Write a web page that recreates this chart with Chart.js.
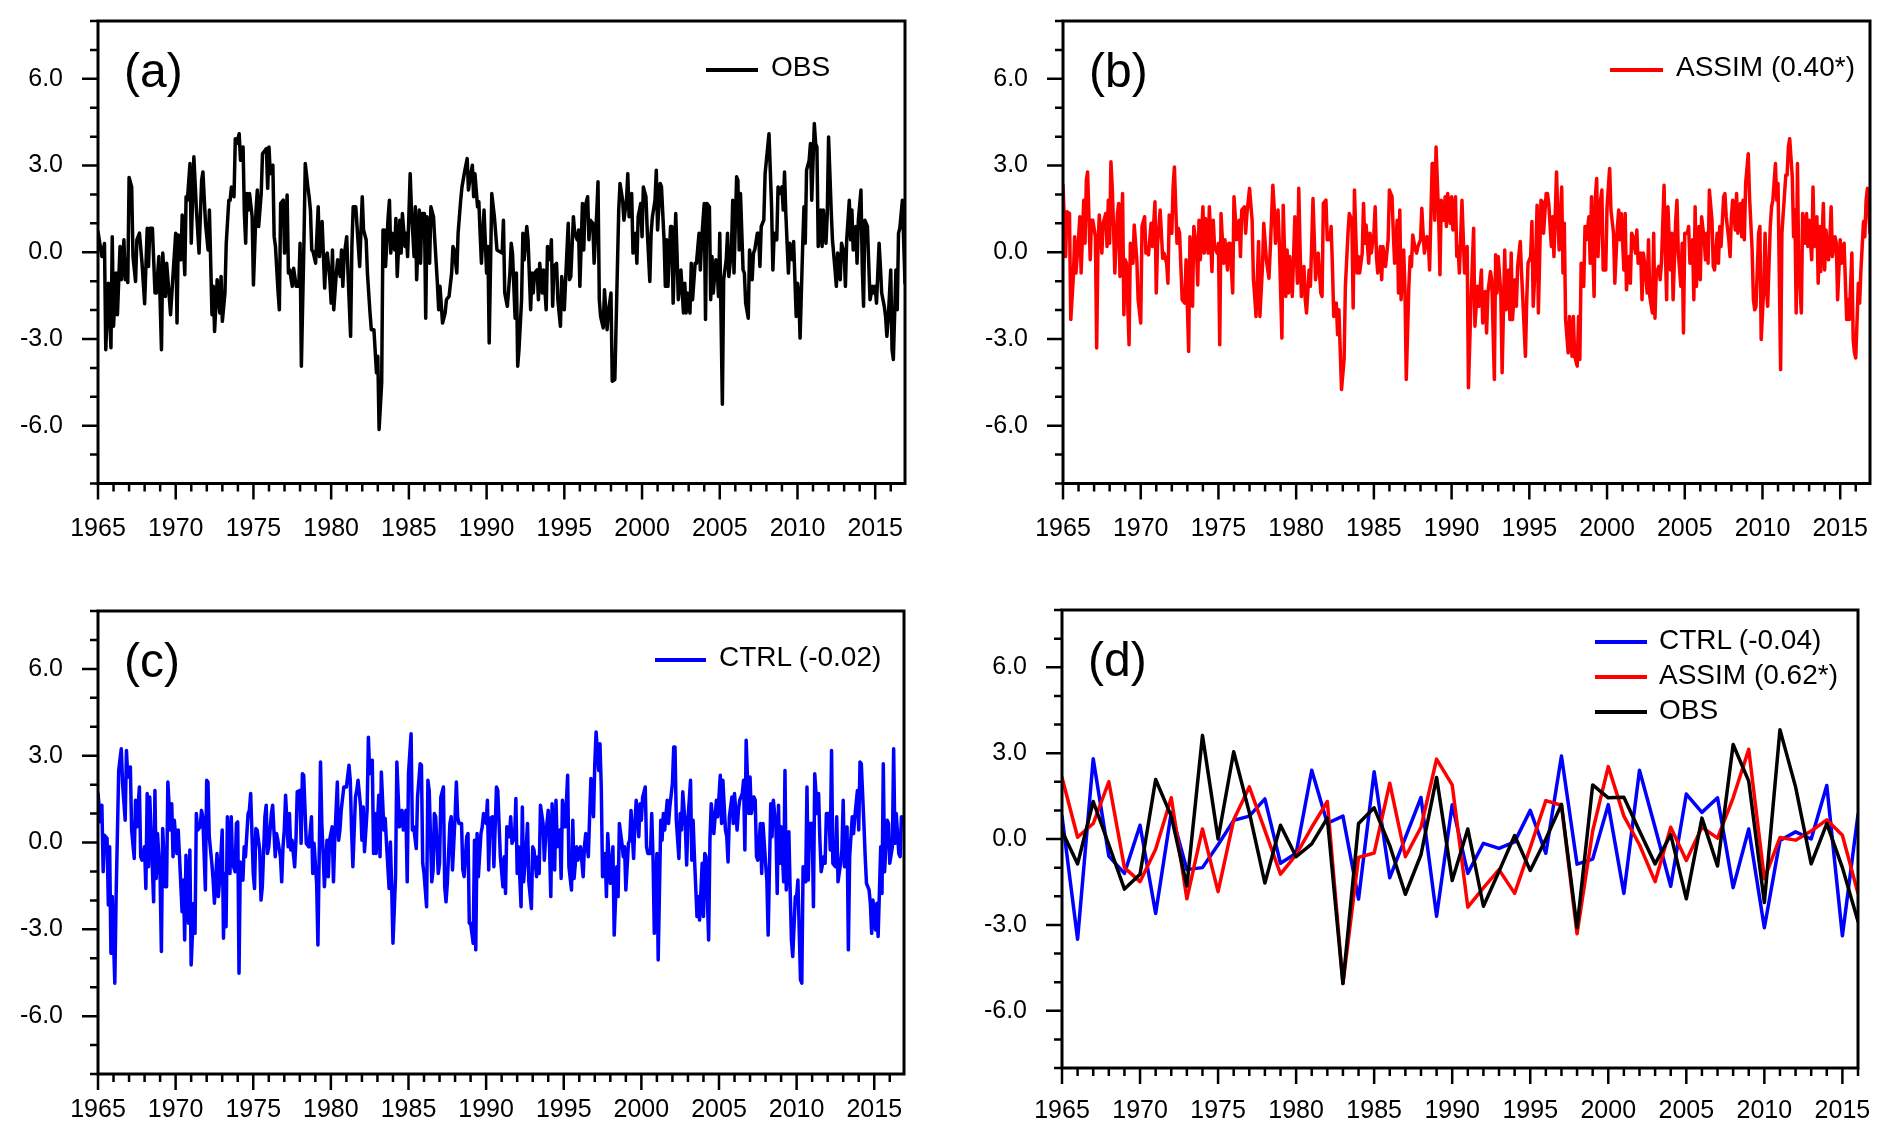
<!DOCTYPE html>
<html>
<head>
<meta charset="utf-8">
<title>OBS / ASSIM / CTRL index</title>
<script src="https://cdn.jsdelivr.net/npm/chart.js@4.4.1/dist/chart.umd.min.js"></script>
<style>
    html, body { margin: 0; padding: 0; background: #fff; }
    #page {
        position: relative;
        width: 1892px;
        height: 1148px;
        overflow: hidden;
        font-family: 'Liberation Sans', Arial, Helvetica, sans-serif;
    }
    #page canvas { position: absolute; left: 0; top: 0; }
    .lbl { position: absolute; white-space: nowrap; color: #000; line-height: 1; }
    .panel-tag { font-size: 48px; }
    .key-text { font-size: 28px; }
    .key-line { position: absolute; height: 4px; }
</style>
</head>
<body>
<div id="page">
    <canvas id="chartA" width="1892" height="1148"></canvas>
    <canvas id="chartB" width="1892" height="1148"></canvas>
    <canvas id="chartC" width="1892" height="1148"></canvas>
    <canvas id="chartD" width="1892" height="1148"></canvas>

    <!-- panel tags -->
    <div class="lbl panel-tag" style="left:124px; top:47px;">(a)</div>
    <div class="lbl panel-tag" style="left:1089px; top:47px;">(b)</div>
    <div class="lbl panel-tag" style="left:124px; top:637px;">(c)</div>
    <div class="lbl panel-tag" style="left:1088px; top:636px;">(d)</div>

    <!-- legends -->
    <div class="key-line" style="left:706px; top:68px; width:52px; background:#000;"></div>
    <div class="lbl key-text" style="left:771px; top:53px;">OBS</div>

    <div class="key-line" style="left:1610px; top:68px; width:53px; background:#ff0000;"></div>
    <div class="lbl key-text" style="left:1676px; top:53px;">ASSIM (0.40*)</div>

    <div class="key-line" style="left:655px; top:658px; width:51px; background:#0000ff;"></div>
    <div class="lbl key-text" style="left:719px; top:643px;">CTRL (-0.02)</div>

    <div class="key-line" style="left:1595px; top:640px; width:52px; background:#0000ff;"></div>
    <div class="lbl key-text" style="left:1659px; top:626px;">CTRL (-0.04)</div>
    <div class="key-line" style="left:1595px; top:675px; width:52px; background:#ff0000;"></div>
    <div class="lbl key-text" style="left:1659px; top:661px;">ASSIM (0.62*)</div>
    <div class="key-line" style="left:1595px; top:710px; width:52px; background:#000;"></div>
    <div class="lbl key-text" style="left:1659px; top:696px;">OBS</div>
</div>

<script>
// Tick labels
const majorYears = [1965, 1970, 1975, 1980, 1985, 1990, 1995, 2000, 2005, 2010, 2015];
const yLabels = [-6, -3, 0, 3, 6];

// Monthly OBS (months since Jan 1965, value)
const obsMonth = [
    0, 3, 5, 6, 8, 10, 11, 12, 14, 15,
    17, 18, 20, 21, 22, 23, 24, 26, 27, 29,
    30, 32, 34, 36, 38, 39, 40, 42, 44, 45,
    47, 49, 50, 52, 53, 55, 56, 58, 60, 61,
    62, 64, 65, 67, 68, 69, 71, 72, 74, 76,
    78, 80, 81, 83, 85, 86, 88, 89, 90, 92,
    94, 95, 96, 98, 99, 101, 102, 103, 105, 106,
    107, 109, 110, 112, 113, 114, 115, 116, 117, 119,
    120, 122, 123, 124, 126, 127, 129, 130, 131, 132,
    133, 135, 136, 137, 139, 140, 141, 143, 144, 146,
    147, 148, 150, 151, 153, 155, 156, 157, 159, 160,
    162, 163, 164, 165, 166, 168, 170, 171, 172, 173,
    175, 176, 177, 179, 180, 181, 182, 184, 185, 187,
    188, 189, 190, 192, 193, 195, 196, 197, 199, 200,
    202, 204, 205, 207, 208, 210, 211, 213, 215, 216,
    217, 219, 220, 221, 222, 224, 225, 226, 227, 229,
    230, 231, 233, 234, 235, 237, 238, 239, 241, 242,
    244, 245, 246, 248, 249, 250, 252, 253, 254, 256,
    257, 259, 260, 262, 263, 264, 266, 268, 269, 271,
    273, 274, 275, 277, 278, 280, 281, 283, 285, 286,
    287, 289, 290, 291, 293, 294, 295, 296, 298, 300,
    301, 302, 304, 306, 308, 312, 313, 314, 316, 318,
    319, 320, 322, 323, 324, 325, 327, 328, 329, 331,
    332, 334, 335, 336, 337, 339, 340, 341, 343, 344,
    346, 347, 349, 350, 351, 352, 354, 355, 357, 358,
    360, 361, 363, 364, 365, 367, 368, 370, 371, 372,
    374, 375, 376, 378, 379, 380, 382, 383, 385, 386,
    387, 388, 390, 391, 393, 394, 396, 397, 399, 401,
    402, 403, 405, 406, 408, 409, 410, 412, 413, 415,
    416, 417, 419, 420, 421, 423, 424, 426, 427, 428,
    430, 431, 432, 434, 435, 437, 438, 439, 440, 442,
    443, 444, 446, 447, 448, 450, 452, 453, 454, 455,
    457, 458, 459, 461, 462, 464, 465, 466, 468, 469,
    470, 472, 473, 474, 475, 477, 478, 479, 480, 482,
    483, 485, 486, 487, 489, 490, 491, 493, 494, 495,
    496, 498, 499, 500, 502, 503, 505, 506, 507, 509,
    510, 511, 512, 514, 515, 516, 518, 520, 521, 522,
    524, 525, 526, 528, 529, 530, 531, 533, 534, 536,
    537, 539, 540, 541, 542, 544, 545, 546, 547, 549,
    550, 551, 553, 554, 555, 556, 558, 559, 560, 562,
    563, 564, 566, 567, 569, 570, 571, 573, 574, 576,
    577, 578, 580, 581, 582, 583, 585, 586, 587, 589,
    590, 591, 592, 594, 595, 596, 598, 599, 600, 601,
    603, 604, 605, 607, 608, 609, 610, 612, 613, 614,
    616, 617, 618, 619, 621, 623
];
const obsValue = [
    0.71, -0.15, 0.3, -3.37, -1.07, -3.3, 0.54, -2.56, -0.72, -2.16,
    0.2, -0.95, 0.43, -0.95, -0.26, -1.05, 2.59, 2.26, -0.15, -1.01,
    0.43, 0.66, -0.38, -1.78, 0.83, -0.49, 0.83, 0.83, -1.41, -1.41,
    -0.15, -3.37, -0.03, -1.53, -0.38, -1.53, -2.16, -0.72, 0.66, -2.45,
    0.6, -0.26, 1.29, -0.78, 1.92, 1.8, 3.07, 0.31, 3.3, 1.46,
    -0.03, 2.49, 2.78, 1.0, 0.08, 1.46, -2.16, -1.18, -2.74, -0.95,
    -2.1, -0.84, -2.39, -1.41, 0.31, 1.8, 1.8, 2.26, 1.92, 3.93,
    3.76, 4.1, 3.18, 3.64, 1.34, 0.31, 2.03, 1.46, 2.03, 1.23,
    -1.13, 1.46, 2.15, 0.89, 2.03, 3.41, 3.53, 3.59, 2.21, 3.64,
    2.72, 3.01, 0.54, 0.2, -1.36, -1.99, 1.69, 1.8, -0.03, 1.98,
    -0.72, -0.61, -1.18, -0.55, -1.18, -1.18, 0.31, -3.94, 0.37, 3.07,
    2.26, 1.92, 1.46, 0.08, 0.02, -0.38, 1.57, -0.15, 0.66, 1.06,
    -1.24, -0.15, -0.03, -0.95, -1.76, 0.08, -1.99, -0.72, -0.26, -0.84,
    0.08, -1.18, -0.15, 0.54, -0.72, -2.91, 0.2, 1.57, 1.57, 0.89,
    -0.49, 1.92, 0.77, 0.43, -0.72, -2.1, -2.68, -2.68, -4.17, -3.6,
    -6.13, -4.52, 0.77, 0.77, -0.49, 1.23, 1.8, -0.03, 0.66, 0.08,
    1.17, -0.84, 1.11, -0.03, 1.34, 0.2, 0.66, -0.15, 2.72, 1.46,
    -0.15, 1.57, -0.95, 1.46, -0.38, 1.34, 1.34, -2.28, 1.23, -0.38,
    1.57, 1.23, 0.43, -1.07, -1.99, -1.18, -2.45, -2.1, -1.64, -1.53,
    -0.72, 0.2, 0.08, -0.72, 0.66, 1.8, 2.26, 2.78, 3.24, 2.15,
    2.49, 3.01, 1.92, 2.72, 1.57, 1.75, 0.66, -0.38, 1.46, -0.72,
    0.2, -3.14, 2.03, 1.23, 0.08, -0.03, 1.11, -1.41, -1.87, -0.72,
    0.31, -0.03, -2.28, -0.72, -3.94, -3.37, -1.64, 0.66, -0.26, 0.89,
    0.43, -1.99, -0.72, -1.41, -0.72, -0.61, -1.64, -0.38, -1.41, -0.61,
    -1.99, 0.2, -0.26, 0.43, -1.87, -0.49, -0.38, -1.64, -2.56, -0.84,
    -1.99, -0.95, 1.0, -0.95, -0.84, 1.23, 0.66, 0.43, 0.77, -1.18,
    1.69, 0.08, 1.57, 1.92, 0.43, 1.11, 1.0, -0.38, 1.34, 2.44,
    -1.64, -2.22, -2.62, -1.3, -2.68, -2.1, -1.41, -4.46, -4.4, -0.49,
    1.46, 2.38, 1.8, 1.11, 1.8, 2.72, 1.23, 2.03, -0.03, 0.66,
    -0.38, 1.23, 1.69, 0.54, 2.26, 1.92, 0.77, -1.01, 0.66, 1.23,
    1.8, 2.84, 0.77, 2.38, 2.26, 0.43, -1.18, 0.43, -1.18, 0.89,
    0.89, -1.76, 1.34, -0.03, -1.64, -0.61, -2.1, -1.07, -2.1, -1.41,
    -2.1, -0.38, -1.64, -0.38, -0.38, 0.66, -0.61, 0.43, 1.69, -2.33,
    1.69, 1.57, -1.64, -0.15, -1.41, -0.26, -0.49, -1.53, 0.66, -5.26,
    -0.95, -0.26, 0.66, -0.84, 0.08, 1.8, -0.72, 2.61, 2.49, 0.08,
    2.03, -0.61, -0.72, -1.76, -2.28, 0.08, -0.95, -0.03, 0.08, 0.66,
    0.66, -0.49, 0.89, 1.11, 2.72, 3.18, 4.1, 1.57, -0.61, 0.66,
    0.43, 2.26, 2.03, 2.26, 1.46, 2.78, 1.34, -0.72, 0.31, -0.26,
    0.37, -2.22, -1.07, -1.41, -2.97, 0.2, 1.57, 0.31, 2.84, 3.18,
    3.76, 1.8, 4.45, 3.76, 3.64, 0.2, 1.46, 0.2, 1.46, 0.31,
    1.34, 3.99, 1.46, 0.43, -0.61, -1.18, -0.03, -0.95, 0.31, -0.03,
    -1.18, 0.43, 1.8, 0.43, 1.46, 0.08, 0.89, -0.38, 1.11, 2.15,
    -0.49, -1.87, 1.11, 0.89, -0.38, -1.64, -1.18, -1.41, -1.18, -1.76,
    0.31, -0.49, -1.41, -1.87, -2.22, -2.91, -2.33, -0.61, -3.37, -3.71,
    -0.61, -1.99, 0.66, 0.83, 1.8, -1.07
];

// Monthly ASSIM
const assimMonth = [
    0, 2, 3, 5, 6, 8, 9, 10, 12, 13,
    14, 16, 17, 18, 19, 21, 22, 23, 25, 26,
    27, 28, 30, 31, 33, 34, 35, 36, 37, 38,
    39, 40, 42, 43, 44, 46, 47, 48, 49, 51,
    52, 54, 55, 57, 58, 60, 61, 63, 64, 65,
    66, 68, 69, 71, 72, 73, 75, 77, 78, 80,
    81, 82, 84, 85, 86, 88, 89, 90, 92, 94,
    95, 97, 98, 100, 101, 103, 104, 105, 106, 108,
    109, 110, 112, 113, 115, 116, 117, 119, 120, 121,
    122, 124, 125, 127, 128, 129, 131, 132, 133, 134,
    136, 137, 138, 140, 141, 142, 144, 146, 147, 148,
    149, 151, 152, 154, 155, 157, 159, 160, 162, 163,
    164, 166, 167, 169, 170, 172, 173, 174, 175, 177,
    178, 179, 181, 182, 183, 184, 186, 187, 188, 190,
    191, 192, 193, 195, 196, 197, 199, 200, 201, 203,
    204, 206, 207, 208, 209, 211, 212, 213, 215, 217,
    218, 220, 221, 223, 224, 225, 227, 228, 229, 231,
    232, 233, 234, 236, 237, 238, 240, 241, 242, 243,
    245, 246, 247, 249, 250, 251, 252, 254, 255, 256,
    258, 259, 260, 261, 263, 264, 265, 267, 268, 269,
    270, 272, 273, 274, 276, 277, 278, 279, 281, 282,
    283, 285, 286, 287, 288, 290, 291, 292, 294, 295,
    296, 297, 299, 300, 301, 303, 304, 305, 306, 308,
    310, 312, 313, 315, 317, 318, 320, 321, 323, 324,
    326, 327, 328, 330, 331, 333, 334, 335, 336, 338,
    339, 341, 342, 344, 345, 346, 347, 349, 350, 351,
    353, 354, 355, 357, 358, 359, 361, 362, 363, 365,
    366, 367, 369, 370, 371, 373, 374, 375, 377, 378,
    379, 381, 382, 383, 385, 386, 387, 388, 390, 391,
    393, 394, 395, 397, 398, 399, 400, 402, 403, 404,
    406, 407, 408, 410, 411, 412, 413, 415, 416, 417,
    419, 420, 422, 423, 425, 426, 428, 429, 430, 431,
    433, 434, 435, 437, 438, 439, 440, 442, 443, 444,
    446, 447, 448, 449, 451, 452, 453, 455, 456, 457,
    458, 460, 461, 462, 464, 465, 466, 467, 469, 470,
    471, 473, 474, 475, 477, 478, 479, 480, 482, 483,
    484, 486, 487, 488, 489, 491, 492, 493, 495, 496,
    497, 498, 499, 501, 502, 503, 505, 506, 507, 508,
    510, 511, 512, 514, 515, 516, 517, 519, 520, 521,
    523, 524, 525, 526, 527, 529, 530, 532, 533, 534,
    535, 537, 538, 539, 541, 542, 543, 544, 546, 547,
    548, 550, 551, 552, 554, 555, 556, 558, 559, 560,
    561, 563, 564, 565, 566, 567, 568, 570, 571, 573,
    574, 575, 576, 578, 579, 580, 582, 583, 584, 585,
    587, 588, 589, 591, 592, 593, 594, 596, 597, 598,
    600, 601, 602, 603, 605, 606, 607, 609, 610, 611,
    612, 614, 615, 616, 618, 619, 620, 621, 623
];
const assimValue = [
    2.32, -0.15, 1.4, 1.34, -2.33, -0.84, 0.54, -0.72, 0.48, 1.23,
    -0.72, 1.8, 0.31, 2.49, 2.78, -0.26, 1.11, 1.11, 0.54, -3.31,
    0.2, 1.29, -0.03, 1.0, 1.34, 0.2, 1.8, 0.31, 3.13, 2.26,
    0.89, -0.72, 1.34, 1.69, -0.84, 2.03, -2.16, -0.26, -0.38, -3.2,
    0.31, -0.38, 0.94, -0.26, -1.64, -2.45, 0.89, 1.23, -0.03, 0.08,
    -0.09, 1.0, 0.2, 1.75, -1.41, 0.31, 1.46, -0.21, -0.03, -0.38,
    -1.07, 1.29, 0.66, 2.26, 2.95, 0.31, 0.83, 0.66, -1.64, -1.76,
    -0.26, -3.43, 0.54, -1.87, 0.89, 0.2, -1.13, 1.11, -0.26, 1.57,
    -0.03, 1.17, -0.03, 1.57, -0.67, 1.11, 0.2, -0.03, 0.31, -3.2,
    1.34, -0.38, 0.43, -0.61, 0.31, 0.31, -1.41, 1.92, 1.23, 0.43,
    1.11, -0.15, 1.46, 1.57, 0.66, 1.34, 2.21, 1.11, -0.95, -1.53,
    -2.22, 0.37, -2.22, -0.49, 1.0, -0.26, -0.9, 0.08, 2.32, 1.57,
    0.31, 1.46, 0.31, -2.97, 1.63, -1.53, 0.08, -1.41, -0.15, -1.53,
    -0.15, 1.23, -1.07, 2.21, 0.2, -1.53, -0.49, -1.64, -2.1, -0.61,
    -1.18, 0.31, 1.86, -0.95, -0.38, -0.03, -1.41, -1.53, 1.69, 1.8,
    0.43, 0.43, 0.89, -0.49, -2.22, -1.76, -2.85, -1.99, -4.75, -3.71,
    -1.18, 0.66, 1.34, 1.11, -1.93, 2.15, -0.72, -0.15, -0.72, -0.03,
    1.69, 0.31, 0.94, -0.38, 0.66, -0.03, 0.66, 1.57, -0.15, -0.72,
    0.2, -0.95, 0.2, -0.49, -0.03, 0.43, 2.15, 1.92, 0.66, -0.38,
    1.11, -1.41, 1.46, -1.64, 0.08, -1.3, -4.4, -1.18, -0.15, -0.49,
    0.6, 0.08, -0.03, 0.2, 0.43, 1.52, 0.66, -0.03, 0.54, 0.43,
    -0.61, 3.07, 3.07, 1.11, 3.64, 1.23, -0.78, 1.8, 1.11, 1.92,
    0.89, 2.03, 1.0, 1.92, 0.77, 1.92, -0.15, 0.2, -0.72, 1.8,
    -0.72, 0.2, -4.69, -1.64, 0.83, -2.56, -1.18, -1.87, -0.61, -2.45,
    -1.36, -2.79, -1.41, -0.67, -0.95, -4.4, -0.09, -1.41, -0.15, -1.41,
    -4.17, 0.08, -1.99, -0.61, -2.33, -0.03, -2.33, -0.95, -1.87, -0.49,
    0.37, -0.72, -1.64, -3.6, -1.64, -0.38, -0.15, 1.06, -1.87, -0.03,
    1.63, -2.1, 1.8, 1.75, 0.66, 2.03, 2.03, 1.69, 0.2, 1.23,
    -0.15, 2.78, 1.23, 0.08, 2.26, -0.72, 1.0, -2.33, -3.48, -2.22,
    -3.6, -2.22, -3.6, -3.94, -2.22, -3.71, -0.38, -1.18, 0.89, 0.43,
    1.23, -0.38, 1.92, -1.53, 1.92, 2.55, -0.15, 1.8, 2.15, -0.61,
    -0.61, 1.57, 2.9, 1.46, 0.66, -1.07, 0.89, 1.46, 0.43, 1.34,
    -0.61, 1.34, -1.3, -0.15, -1.07, 0.66, 0.54, -0.03, 0.77, -0.38,
    -0.03, -1.64, -0.03, -0.38, -1.41, 0.43, -1.53, -2.1, 0.66, -2.28,
    -0.72, -0.49, -0.95, -0.38, 2.32, 0.08, -1.64, 1.57, -0.61, 0.66,
    -1.64, 1.11, 1.8, -0.03, -1.18, 0.31, -2.79, 0.66, 0.66, 0.89,
    -0.38, 0.43, -1.64, 1.57, -1.18, 0.89, -0.95, 1.23, 0.43, -0.26,
    0.66, -0.38, 2.15, 1.11, -0.49, -0.61, 0.66, -0.38, 0.89, 0.2,
    1.92, 2.03, 1.23, 0.43, -0.15, 1.23, 1.8, 0.77, 2.03, 0.66,
    1.69, 0.54, 1.8, 0.43, 2.38, 3.41, 1.92, 0.08, -1.64, -1.99,
    -1.87, 0.66, 0.89, -3.02, -1.18, 0.66, -1.18, -1.87, 0.89, 1.57,
    1.8, 3.07, 1.8, 2.38, -4.06, 0.66, 1.34, 2.67, 2.67, 3.64,
    3.93, 2.61, 0.54, 1.46, -2.1, 3.07, -0.49, -2.1, 1.34, 0.31,
    1.34, 0.2, 1.11, -0.26, 2.26, 0.2, 1.23, -1.07, 0.89, -0.67,
    1.69, -0.61, 0.77, -0.26, 0.43, 1.57, -0.15, 0.54, 0.31, -1.64,
    0.43, -0.38, -0.03, 0.31, -2.33, -1.64, -2.33, -0.03, -3.02, -3.48,
    -3.66, -1.07, -1.76, -0.61, 1.06, 0.54, 1.8, 2.21, 0.66
];

// Monthly CTRL
const ctrlMonth = [
    0, 2, 3, 4, 5, 7, 8, 9, 10, 11,
    13, 14, 16, 18, 19, 21, 22, 23, 25, 26,
    28, 29, 30, 32, 33, 34, 36, 37, 38, 39,
    40, 42, 43, 44, 45, 46, 48, 49, 50, 52,
    53, 54, 56, 57, 58, 59, 61, 62, 63, 65,
    66, 67, 68, 70, 71, 72, 74, 75, 76, 77,
    79, 80, 81, 83, 84, 85, 86, 88, 89, 90,
    92, 93, 94, 96, 97, 98, 99, 100, 102, 103,
    104, 106, 107, 108, 109, 110, 112, 113, 114, 116,
    117, 118, 120, 121, 122, 123, 125, 126, 127, 129,
    130, 131, 132, 134, 135, 137, 138, 139, 141, 142,
    143, 144, 145, 147, 148, 149, 150, 152, 153, 154,
    156, 157, 158, 159, 161, 162, 163, 165, 166, 167,
    169, 170, 172, 173, 174, 175, 177, 178, 179, 181,
    182, 183, 185, 186, 187, 188, 190, 191, 192, 194,
    195, 196, 197, 199, 200, 201, 203, 204, 205, 206,
    208, 209, 210, 212, 213, 214, 215, 217, 218, 219,
    221, 222, 223, 225, 226, 227, 228, 230, 231, 233,
    234, 235, 236, 238, 239, 240, 242, 243, 244, 246,
    247, 249, 250, 251, 252, 254, 255, 256, 258, 259,
    260, 261, 263, 264, 265, 267, 268, 269, 270, 272,
    273, 274, 276, 277, 278, 279, 281, 282, 283, 285,
    286, 287, 288, 290, 291, 292, 293, 294, 296, 297,
    298, 300, 301, 302, 303, 305, 306, 308, 309, 311,
    313, 314, 315, 316, 318, 319, 320, 322, 323, 324,
    325, 327, 328, 329, 331, 332, 333, 335, 336, 337,
    339, 340, 341, 342, 344, 345, 346, 348, 349, 350,
    351, 353, 354, 355, 357, 358, 359, 361, 362, 363,
    364, 366, 367, 368, 370, 371, 372, 373, 375, 376,
    377, 379, 380, 381, 383, 384, 385, 387, 388, 389,
    390, 392, 393, 394, 396, 397, 398, 399, 401, 402,
    403, 405, 406, 407, 408, 410, 411, 412, 414, 415,
    416, 418, 419, 420, 421, 423, 424, 425, 427, 428,
    429, 430, 432, 433, 435, 436, 437, 438, 440, 441,
    442, 444, 445, 446, 447, 449, 450, 451, 452, 454,
    455, 456, 458, 459, 460, 461, 463, 464, 465, 467,
    468, 469, 470, 472, 473, 474, 476, 477, 478, 479,
    481, 482, 483, 485, 486, 487, 488, 490, 491, 492,
    494, 495, 496, 498, 499, 500, 501, 503, 504, 505,
    507, 508, 509, 510, 512, 513, 514, 516, 517, 518,
    520, 521, 522, 524, 525, 526, 527, 528, 530, 531,
    532, 534, 535, 536, 537, 539, 540, 541, 543, 544,
    545, 547, 548, 549, 550, 552, 553, 554, 556, 557,
    558, 559, 561, 562, 563, 565, 566, 567, 568, 570,
    571, 572, 574, 575, 576, 577, 579, 580, 581, 583,
    584, 585, 587, 588, 589, 590, 592, 593, 594, 596,
    597, 598, 599, 601, 602, 603, 605, 606, 607, 608,
    610, 611, 612, 614, 615, 616, 617, 619, 620, 621,
    623
];
const ctrlValue = [
    1.69, 0.71, 1.29, -1.01, 0.25, 0.14, -2.16, -0.15, -3.83, -1.87,
    -4.86, -1.87, 2.49, 3.24, 2.03, 0.77, 3.18, 2.26, 2.61, 0.43,
    -0.55, 1.46, 0.54, 1.92, -0.49, -0.61, -0.15, -1.59, 1.69, -0.84,
    1.57, -0.84, -2.05, 1.8, -1.24, 0.31, -1.18, -3.77, 0.48, -1.53,
    -1.53, 2.09, 0.43, 1.34, -0.49, 0.77, -0.38, 0.43, -0.49, -2.39,
    -1.3, -3.37, -0.44, -2.79, -0.26, -4.23, -2.1, -3.14, 1.0, 0.43,
    0.54, 1.11, 0.89, -1.64, 2.15, 2.09, 0.2, -0.72, -1.3, -2.1,
    -0.38, -1.87, -1.3, 0.43, -3.31, -1.07, -2.91, 0.89, -1.07, 0.89,
    -0.72, -1.01, 0.66, 0.71, -4.52, -0.67, -1.3, -0.15, -0.49, 1.0,
    1.11, 1.69, -1.07, -1.59, 0.48, 0.43, -0.26, -1.99, -1.53, 0.89,
    1.29, -0.38, -0.15, 1.0, 1.29, -0.49, 0.31, 0.08, -0.49, -1.36,
    -0.15, 0.43, 1.63, -0.15, 1.0, -0.26, 0.08, -0.84, 0.08, 1.75,
    1.8, -0.03, 2.38, 2.32, -0.03, -0.09, -0.15, 0.89, -1.07, -0.03,
    -1.41, -3.54, 2.78, 0.66, -0.38, -1.53, 0.08, -1.18, 0.08, 0.54,
    -1.36, 0.08, 2.09, 0.08, 0.43, 1.11, 1.92, 1.92, 1.92, 2.67,
    2.15, 0.43, -0.84, 1.57, 1.8, 2.15, 1.23, 0.08, 1.23, -0.32,
    1.11, 3.64, 2.38, 2.84, -0.38, 1.0, -0.38, 1.63, -0.49, 2.44,
    0.43, 0.83, -0.03, -1.59, 0.02, -1.53, -3.48, -1.18, 2.78, 0.54,
    0.66, 1.11, 0.43, 1.11, -1.36, 2.38, 3.76, 0.43, 0.54, -0.21,
    1.57, 2.72, 2.67, -0.72, -1.07, -2.22, 2.15, 1.8, -1.36, -0.95,
    1.0, 0.89, -1.07, -0.72, 1.57, 1.92, -1.53, -2.05, -1.41, 0.66,
    0.89, -0.95, 0.89, 2.09, 0.89, 0.66, 0.66, -0.95, -1.18, 0.2,
    0.31, -2.79, -2.79, -3.48, 0.08, -3.71, 0.31, -1.18, 0.31, 0.54,
    1.0, 0.66, 1.46, -0.95, 0.83, 0.89, -0.84, 1.92, 1.8, -0.49,
    -1.53, -0.49, -1.76, 0.54, 0.2, 0.89, -0.03, 0.2, 1.52, -1.07,
    -0.15, -2.22, 1.23, -1.36, -0.15, 0.66, -1.36, -2.28, -0.15, -0.26,
    -1.18, -0.49, -1.07, 1.29, 0.66, -0.61, 0.2, 1.11, -0.15, -1.87,
    1.34, -0.95, 1.46, -0.15, 0.43, -1.24, 1.46, 0.54, 1.34, 2.32,
    -0.84, -1.64, 0.77, -1.24, -0.15, -0.61, -0.26, -0.15, -1.18, -0.15,
    0.31, -0.49, 0.89, 2.21, 0.89, 2.72, 3.82, 2.49, 3.41, 1.92,
    -1.18, -0.38, -1.87, 0.31, -1.41, -0.84, -0.15, -3.2, -0.84, -1.87,
    0.66, -0.03, -0.49, -0.15, -1.64, -0.03, 0.08, 1.11, -0.55, 0.66,
    1.46, 0.2, 1.34, 0.77, 1.57, 1.92, -0.15, -0.38, -0.38, 1.0,
    -0.49, -3.14, -0.38, -4.06, 0.77, 0.08, 1.0, 0.43, 1.46, 0.66,
    1.23, 2.03, 3.3, 3.3, 0.77, -0.55, 1.0, 0.43, 1.75, 0.54,
    -0.78, 0.77, 2.15, -0.61, 0.77, -0.49, -2.56, -1.87, -2.68, -0.72,
    -2.56, -0.38, -0.49, -3.37, 0.08, 1.34, 0.31, 0.89, 1.46, 0.89,
    2.32, 0.66, 2.15, 0.43, 0.2, -0.67, 0.89, 1.57, 0.66, 1.69,
    0.43, 1.11, 1.46, 1.69, 2.15, -0.26, 3.53, 1.0, 2.26, 1.0,
    1.57, 1.46, -0.49, -0.61, 0.66, -1.07, 0.66, -0.72, -1.3, -3.2,
    1.34, 0.2, 1.46, 0.54, -1.76, 1.29, -0.72, 0.54, -1.36, 2.49,
    -1.64, 0.37, -1.64, -3.37, -3.94, -1.87, -1.87, -1.3, -4.75, -4.86,
    -0.84, -1.36, 1.92, -1.3, 0.66, 0.66, -2.22, 2.38, 1.0, 1.69,
    0.08, -1.01, -0.49, -0.72, 1.0, 1.0, -0.26, 3.18, -0.72, -0.84,
    0.89, -1.36, -0.72, -0.26, 1.46, -0.84, 0.54, -3.71, -0.49, 0.89,
    0.31, 0.89, 1.8, 0.43, 2.78, 2.72, 0.66, -0.49, -1.41, -1.64,
    -2.1, -3.14, -1.99, -3.02, -2.1, -3.25, -0.15, -1.76, 2.72, -1.01,
    0.77, 0.66, -0.72, -0.15, 3.24, -0.03, 1.0, -0.38, -0.49, 0.89,
    0.66
];

// Annual means, panel (d)
const annualYears = [
    1965, 1966, 1967, 1968, 1969, 1970, 1971, 1972, 1973, 1974,
    1975, 1976, 1977, 1978, 1979, 1980, 1981, 1982, 1983, 1984,
    1985, 1986, 1987, 1988, 1989, 1990, 1991, 1992, 1993, 1994,
    1995, 1996, 1997, 1998, 1999, 2000, 2001, 2002, 2003, 2004,
    2005, 2006, 2007, 2008, 2009, 2010, 2011, 2012, 2013, 2014,
    2015, 2016
];
const ctrlAnnual = [
    0.8, -3.5, 2.8, -0.6, -1.2, 0.48, -2.6, 0.93, -1.07, -1.0,
    -0.2, 0.65, 0.8, 1.4, -0.85, -0.5, 2.4, 0.55, 0.8, -2.1,
    2.35, -1.35, 0.05, 1.45, -2.7, 1.2, -1.2, -0.15, -0.33, -0.1,
    1.0, -0.5, 2.9, -0.88, -0.7, 1.2, -1.9, 2.4, 0.4, -1.65,
    1.57, 0.93, 1.44, -1.7, 0.35, -3.1, -0.05, 0.25, 0.0, 1.87,
    -3.38, 0.86
];
const assimAnnual = [
    2.15, 0.06, 0.54, 2.0, -1.0, -1.49, -0.36, 1.44, -2.09, 0.35,
    -1.84, 0.67, 1.82, 0.3, -1.23, -0.55, 0.41, 1.31, -5.05, -0.64,
    -0.49, 1.95, -0.62, 0.41, 2.79, 1.89, -2.38, -1.71, -1.07, -1.9,
    -0.3, 1.34, 1.18, -3.31, 0.28, 2.53, 0.8, -0.2, -1.49, 0.41,
    -0.75, 0.41, 0.03, 1.44, 3.13, -1.39, 0.05, -0.04, 0.28, 0.67,
    0.13, -1.9
];
const obsAnnual = [
    0.28, -0.87, 1.31, -0.2, -1.75, -1.23, 2.08, 0.8, -1.64, 3.62,
    0.0, 3.05, 0.93, -1.54, 0.48, -0.62, -0.17, 0.73, -5.05, 0.54,
    1.09, -0.23, -1.93, -0.55, 2.15, -1.45, 0.35, -2.35, -1.13, 0.12,
    -1.1, 0.0, 1.21, -3.1, 1.89, 1.44, 1.46, 0.28, -0.87, 0.15,
    -2.09, 0.73, -0.94, 3.3, 2.02, -2.22, 3.82, 1.82, -0.87, 0.54,
    -1.0, -2.87
];

// Page / layout constants
const PAGE_W = 1892, PAGE_H = 1148;
const Y_AXIS_W = 90, X_AXIS_H = 70;
const LAST_MONTH = 623;

Chart.defaults.font.family = "'Liberation Sans', Arial, Helvetica, sans-serif";
Chart.defaults.color = '#000';

function monthlySeries(months, values) {
    const n = Math.min(months.length, values.length);
    const pts = [];
    for (let i = 0; i < n; i++) pts.push({ x: 1965 + months[i] / 12, y: values[i] });
    return pts;
}

function annualSeries(years, values) {
    return years.map((yr, i) => ({ x: yr, y: values[i] }));
}

function isWhole(v) {
    return Math.abs(v - Math.round(v)) < 1e-6;
}

// Frame and NCL-style outward ticks (major + minor)
const frameAndTicks = {
    id: 'frameAndTicks',
    afterDraw(chart) {
        const { ctx, chartArea: a } = chart;
        const xs = chart.scales.x, ys = chart.scales.y;
        ctx.save();
        ctx.strokeStyle = '#000';
        ctx.lineCap = 'butt';
        ctx.lineWidth = 2.5;
        ctx.beginPath();
        for (let yr = Math.ceil(xs.min); yr <= xs.max + 1e-9; yr++) {
            const px = xs.getPixelForValue(yr);
            const len = majorYears.includes(yr) ? 16 : 8;
            ctx.moveTo(px, a.bottom);
            ctx.lineTo(px, a.bottom + len);
        }
        for (let v = Math.ceil(ys.min); v <= ys.max; v++) {
            const py = ys.getPixelForValue(v);
            const len = yLabels.includes(v) ? 16 : 8;
            ctx.moveTo(a.left, py);
            ctx.lineTo(a.left - len, py);
        }
        ctx.stroke();
        ctx.lineWidth = 3;
        ctx.strokeRect(a.left, a.top, a.right - a.left, a.bottom - a.top);
        ctx.restore();
    }
};

function makePanel(canvasId, box, xMax, labelGap, datasets) {
    return new Chart(document.getElementById(canvasId), {
        type: 'line',
        data: { datasets },
        options: {
            responsive: false,
            animation: false,
            events: [],
            layout: {
                padding: {
                    left: box.left - Y_AXIS_W,
                    right: PAGE_W - box.right,
                    top: box.top,
                    bottom: PAGE_H - box.bottom - X_AXIS_H
                }
            },
            plugins: { legend: { display: false }, tooltip: { enabled: false } },
            elements: {
                point: { radius: 0 },
                line: { tension: 0, borderJoinStyle: 'round', borderCapStyle: 'round' }
            },
            scales: {
                x: {
                    type: 'linear',
                    min: 1965,
                    max: xMax,
                    afterFit: s => {
                        s.height = X_AXIS_H;
                        s.paddingLeft = 0;
                        s.paddingRight = 0;
                    },
                    grid: { display: false, drawTicks: false },
                    border: { display: false },
                    ticks: {
                        stepSize: 1,
                        autoSkip: false,
                        maxRotation: 0,
                        minRotation: 0,
                        padding: labelGap,
                        color: '#000',
                        font: { size: 25 },
                        callback: v => (isWhole(v) && majorYears.includes(Math.round(v))) ? String(Math.round(v)) : ''
                    }
                },
                y: {
                    type: 'linear',
                    min: -8,
                    max: 8,
                    afterFit: s => {
                        s.width = Y_AXIS_W;
                        s.paddingTop = 0;
                        s.paddingBottom = 0;
                    },
                    grid: { display: false, drawTicks: false },
                    border: { display: false },
                    ticks: {
                        stepSize: 1,
                        autoSkip: false,
                        padding: 35,
                        color: '#000',
                        font: { size: 25 },
                        callback: v => (isWhole(v) && yLabels.includes(Math.round(v))) ? v.toFixed(1) : ''
                    }
                }
            }
        },
        plugins: [frameAndTicks]
    });
}

function lineSet(data, color) {
    return { data, borderColor: color, borderWidth: 3.5, pointRadius: 0, fill: false };
}

const monthlyMax = 1965 + LAST_MONTH / 12;

makePanel('chartA', { left: 98, right: 905, top: 21, bottom: 483.5 }, monthlyMax, 31,
    [lineSet(monthlySeries(obsMonth, obsValue), '#000000')]);

makePanel('chartB', { left: 1063, right: 1870, top: 21, bottom: 483.5 }, monthlyMax, 31,
    [lineSet(monthlySeries(assimMonth, assimValue), '#ff0000')]);

makePanel('chartC', { left: 98, right: 904, top: 611, bottom: 1074 }, monthlyMax, 21,
    [lineSet(monthlySeries(ctrlMonth, ctrlValue), '#0000ff')]);

// first dataset is drawn on top
makePanel('chartD', { left: 1062, right: 1858, top: 610, bottom: 1068 }, 2016, 28, [
    lineSet(annualSeries(annualYears, obsAnnual), '#000000'),
    lineSet(annualSeries(annualYears, assimAnnual), '#ff0000'),
    lineSet(annualSeries(annualYears, ctrlAnnual), '#0000ff')
]);
</script>
</body>
</html>
